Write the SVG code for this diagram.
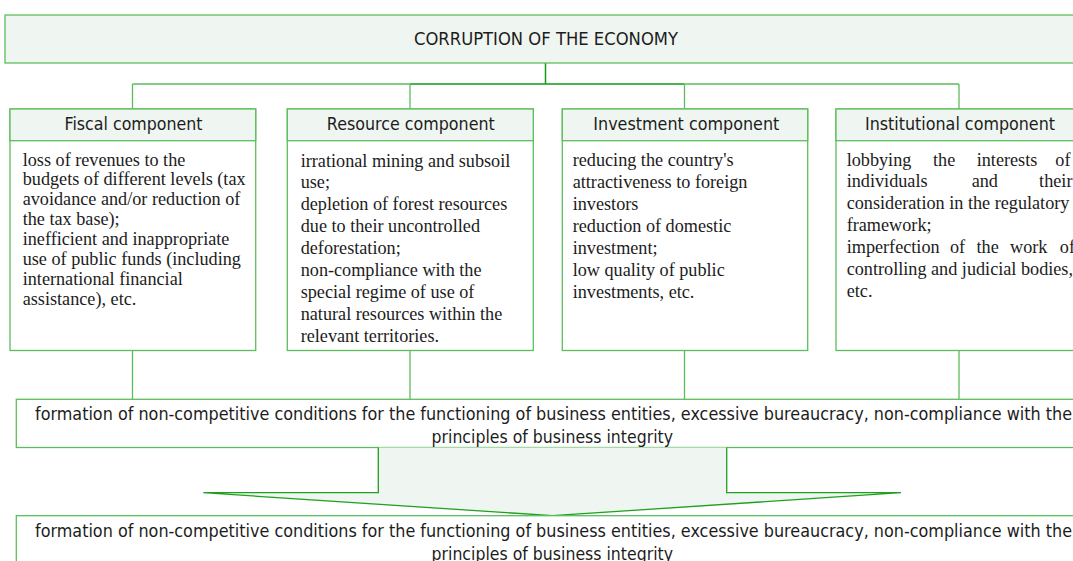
<svg xmlns="http://www.w3.org/2000/svg" width="1073" height="561" viewBox="0 0 1073 561">
  <style>
    .box { fill: #ffffff; stroke: #5cbd5c; stroke-width: 1.3; }
    .shade { fill: #eff5f0; stroke: #5cbd5c; stroke-width: 1.3; }
    .link { fill: none; stroke: #5cbd5c; stroke-width: 1.3; }
    .link-dark { fill: none; stroke: #149a14; stroke-width: 1.5; }
    .sans { font-family: "DejaVu Sans", "Liberation Sans", sans-serif; font-size: 17px; fill: #1c1c1c; }
    .head { text-anchor: middle; }
    .serif { font-family: "Liberation Serif", "Times New Roman", serif; font-size: 18.2px; fill: #1c1c1c; }
    .end { text-anchor: end; }
    .arrow { fill: #eff5f0; stroke: #1fa01f; stroke-width: 1.3; stroke-linejoin: miter; }
  </style>

  <!-- connectors -->
  <g id="connectors">
    <path class="link-dark" d="M545.5 63 V84 M410 84 H684.5"/>
    <path class="link" d="M132.5 84 H410 M684.5 84 H959 M132.5 84 V109 M410 84 V109 M684.5 84 V109 M959 84 V109"/>
    <path class="link" d="M132.5 350.5 V399.3 M410 350.5 V399.3 M684.5 350.5 V399.3 M959 350.5 V399.3"/>
  </g>

  <!-- root node -->
  <g id="root">
    <rect class="shade" x="5" y="15" width="1090" height="48"/>
    <text class="sans head" x="546" y="45" textLength="264" lengthAdjust="spacingAndGlyphs">CORRUPTION OF THE ECONOMY</text>
  </g>

  <!-- fiscal component -->
  <g id="fiscal">
    <rect class="box" x="10" y="109" width="245.7" height="241.5"/>
    <rect class="shade" x="10" y="109" width="245.7" height="31.7"/>
    <text class="sans head" x="133.5" y="130" textLength="138" lengthAdjust="spacingAndGlyphs">Fiscal component</text>
    <text class="serif">
      <tspan x="22.7" y="165.5">loss of revenues to the</tspan>
      <tspan x="22.7" y="185.4">budgets of different levels (tax</tspan>
      <tspan x="22.7" y="205.3">avoidance and/or reduction of</tspan>
      <tspan x="22.7" y="225.2">the tax base);</tspan>
      <tspan x="22.7" y="245.1">inefficient and inappropriate</tspan>
      <tspan x="22.7" y="265">use of public funds (including</tspan>
      <tspan x="22.7" y="284.9">international financial</tspan>
      <tspan x="22.7" y="304.8">assistance), etc.</tspan>
    </text>
  </g>

  <!-- resource component -->
  <g id="resource">
    <rect class="box" x="287.3" y="109" width="246" height="241.5"/>
    <rect class="shade" x="287.3" y="109" width="246" height="31.7"/>
    <text class="sans head" x="410.8" y="130" textLength="168" lengthAdjust="spacingAndGlyphs">Resource component</text>
    <text class="serif">
      <tspan x="300.7" y="166.5">irrational mining and subsoil</tspan>
      <tspan x="300.7" y="188.4">use;</tspan>
      <tspan x="300.7" y="210.3">depletion of forest resources</tspan>
      <tspan x="300.7" y="232.2">due to their uncontrolled</tspan>
      <tspan x="300.7" y="254.1">deforestation;</tspan>
      <tspan x="300.7" y="276">non-compliance with the</tspan>
      <tspan x="300.7" y="297.9">special regime of use of</tspan>
      <tspan x="300.7" y="319.8">natural resources within the</tspan>
      <tspan x="300.7" y="341.7">relevant territories.</tspan>
    </text>
  </g>

  <!-- investment component -->
  <g id="investment">
    <rect class="box" x="562.3" y="109" width="245.4" height="241.5"/>
    <rect class="shade" x="562.3" y="109" width="245.4" height="31.7"/>
    <text class="sans head" x="686.3" y="130" textLength="186" lengthAdjust="spacingAndGlyphs">Investment component</text>
    <text class="serif">
      <tspan x="572.7" y="165.5">reducing the country's</tspan>
      <tspan x="572.7" y="187.6">attractiveness to foreign</tspan>
      <tspan x="572.7" y="209.7">investors</tspan>
      <tspan x="572.7" y="231.8">reduction of domestic</tspan>
      <tspan x="572.7" y="253.9">investment;</tspan>
      <tspan x="572.7" y="276">low quality of public</tspan>
      <tspan x="572.7" y="298.1">investments, etc.</tspan>
    </text>
  </g>

  <!-- institutional component (justified paragraph) -->
  <g id="institutional">
    <rect class="box" x="836" y="109" width="260" height="241.5"/>
    <rect class="shade" x="836" y="109" width="260" height="31.7"/>
    <text class="sans head" x="960" y="130" textLength="190" lengthAdjust="spacingAndGlyphs">Institutional component</text>
    <text class="serif">
      <tspan x="846.7" y="165.5">lobbying</tspan>
      <tspan x="933" y="165.5">the</tspan>
      <tspan x="976.7" y="165.5">interests</tspan>
      <tspan x="846.7" y="187.45">individuals</tspan>
      <tspan x="971.7" y="187.45">and</tspan>
      <tspan x="846.7" y="209.4">consideration in the regulatory</tspan>
      <tspan x="846.7" y="231.35">framework;</tspan>
      <tspan x="846.7" y="253.3">imperfection</tspan>
      <tspan x="950" y="253.3">of</tspan>
      <tspan x="976.5" y="253.3">the</tspan>
      <tspan x="1010" y="253.3">work</tspan>
      <tspan x="846.7" y="275.25">controlling and judicial bodies,</tspan>
      <tspan x="846.7" y="297.2">etc.</tspan>
    </text>
    <text class="serif end">
      <tspan x="1075" y="165.5">of</tspan>
      <tspan x="1077" y="187.45">their</tspan>
      <tspan x="1075" y="253.3">of</tspan>
    </text>
  </g>

  <!-- consequence -->
  <g id="consequence">
    <rect class="box" x="16.3" y="399.3" width="1080" height="48.2"/>
    <text class="sans head" x="553.5" y="420" textLength="1037" lengthAdjust="spacingAndGlyphs">formation of non-competitive conditions for the functioning of business entities, excessive bureaucracy, non-compliance with the</text>
    <text class="sans head" x="552.3" y="443" textLength="241.5" lengthAdjust="spacingAndGlyphs">principles of business integrity</text>
  </g>

  <!-- block arrow -->
  <g id="flow-arrow">
    <path class="arrow" d="M378.3 447.5 V492.7 H203.3 L552.5 515.7 L901 492.7 H726.7 V447.5"/>
  </g>

  <!-- result -->
  <g id="result">
    <rect class="box" x="16.3" y="515.7" width="1080" height="60"/>
    <text class="sans head" x="553.5" y="536.5" textLength="1037" lengthAdjust="spacingAndGlyphs">formation of non-competitive conditions for the functioning of business entities, excessive bureaucracy, non-compliance with the</text>
    <text class="sans head" x="552.3" y="559.5" textLength="241.5" lengthAdjust="spacingAndGlyphs">principles of business integrity</text>
  </g>
</svg>
